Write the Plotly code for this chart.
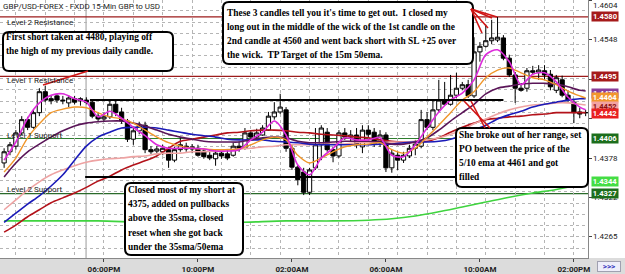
import plotly.graph_objects as go

# ---------------- data ----------------
candle_idx = list(range(100))
opens = [1.4371,1.4387,1.4395,1.4414,1.4433,1.4422,1.4443,1.4473,1.4463,1.4467,
         1.4461,1.4457,1.4463,1.4460,1.4461,1.4458,1.4438,1.4434,1.4437,1.4455,
         1.4444,1.4431,1.4405,1.4417,1.4425,1.4390,1.4388,1.4387,1.4390,1.4375,
         1.4390,1.4395,1.4391,1.4392,1.4388,1.4382,1.4377,1.4385,1.4384,1.4382,
         1.4395,1.4392,1.4414,1.4408,1.4411,1.4418,1.4437,1.4444,1.4447,1.4392,
         1.4365,1.4358,1.4329,1.4364,1.4397,1.4415,1.4390,1.4381,1.4414,1.4408,
         1.4411,1.4394,1.4418,1.4415,1.4402,1.4411,1.4364,1.4382,1.4375,1.4381,
         1.4392,1.4395,1.4433,1.4422,1.4447,1.4461,1.4455,1.4468,1.4478,1.4483,
         1.4467,1.4530,1.4538,1.4546,1.4547,1.4550,1.4521,1.4497,1.4478,1.4478,
         1.4503,1.4501,1.4503,1.4498,1.4475,1.4490,1.4468,1.4458,1.4444,1.4443]
highs = [1.4392,1.4401,1.4418,1.4438,1.4437,1.4447,1.4478,1.4481,1.4468,1.4470,
         1.4467,1.4468,1.4467,1.4465,1.4465,1.4461,1.4444,1.4443,1.4460,1.4460,
         1.4450,1.4434,1.4421,1.4430,1.4430,1.4395,1.4395,1.4397,1.4394,1.4394,
         1.4408,1.4400,1.4398,1.4397,1.4392,1.4390,1.4390,1.4391,1.4390,1.4400,
         1.4402,1.4421,1.4418,1.4420,1.4425,1.4444,1.4458,1.4470,1.4451,1.4397,
         1.4368,1.4364,1.4364,1.4421,1.4425,1.4421,1.4394,1.4418,1.4421,1.4418,
         1.4421,1.4425,1.4425,1.4421,1.4418,1.4415,1.4390,1.4387,1.4387,1.4397,
         1.4404,1.4447,1.4444,1.4461,1.4490,1.4487,1.4497,1.4500,1.4487,1.4490,
         1.4551,1.4544,1.4569,1.4576,1.4580,1.4554,1.4526,1.4501,1.4483,1.4507,
         1.4510,1.4511,1.4511,1.4504,1.4497,1.4496,1.4475,1.4461,1.4450,1.4447]
lows = [1.4364,1.4382,1.4390,1.4411,1.4418,1.4420,1.4438,1.4458,1.4455,1.4457,
        1.4455,1.4451,1.4455,1.4453,1.4455,1.4435,1.4430,1.4431,1.4434,1.4438,
        1.4427,1.4401,1.4397,1.4412,1.4385,1.4384,1.4384,1.4382,1.4364,1.4372,
        1.4387,1.4387,1.4385,1.4380,1.4377,1.4375,1.4367,1.4377,1.4375,1.4380,
        1.4387,1.4390,1.4405,1.4404,1.4410,1.4417,1.4433,1.4441,1.4387,1.4361,
        1.4339,1.4325,1.4325,1.4361,1.4375,1.4387,1.4372,1.4378,1.4404,1.4401,
        1.4392,1.4385,1.4407,1.4394,1.4394,1.4358,1.4357,1.4361,1.4371,1.4378,
        1.4382,1.4392,1.4418,1.4418,1.4444,1.4453,1.4453,1.4464,1.4475,1.4464,
        1.4464,1.4516,1.4536,1.4541,1.4544,1.4518,1.4494,1.4457,1.4473,1.4473,
        1.4498,1.4490,1.4490,1.4475,1.4471,1.4465,1.4458,1.4428,1.4435,1.4438]
closes = [1.4387,1.4397,1.4414,1.4433,1.4422,1.4443,1.4473,1.4461,1.4460,1.4461,
          1.4460,1.4464,1.4458,1.4463,1.4458,1.4438,1.4434,1.4437,1.4455,1.4443,
          1.4431,1.4405,1.4417,1.4424,1.4390,1.4387,1.4391,1.4392,1.4375,1.4390,
          1.4397,1.4391,1.4394,1.4382,1.4380,1.4378,1.4385,1.4381,1.4378,1.4395,
          1.4391,1.4414,1.4408,1.4414,1.4421,1.4438,1.4444,1.4451,1.4392,1.4365,
          1.4347,1.4329,1.4361,1.4397,1.4421,1.4390,1.4381,1.4414,1.4408,1.4411,
          1.4397,1.4418,1.4412,1.4398,1.4411,1.4364,1.4385,1.4375,1.4382,1.4392,
          1.4398,1.4433,1.4422,1.4447,1.4461,1.4455,1.4468,1.4478,1.4483,1.4467,
          1.4530,1.4538,1.4546,1.4550,1.4551,1.4521,1.4497,1.4478,1.4475,1.4503,
          1.4501,1.4504,1.4497,1.4480,1.4493,1.4468,1.4461,1.4443,1.4441,1.4443]

tick_idx = [17, 33, 49, 65, 81, 97]
tick_labels = ["06:00PM", "10:00PM", "02:00AM", "06:00AM", "10:00AM", "02:00PM"]

ma_idx = [0, 2, 4, 6, 8, 10, 12, 14, 16, 18, 20, 22, 24, 26, 28, 30, 32, 34, 36, 38,
          40, 42, 44, 46, 48, 50, 52, 54, 56, 58, 60, 62, 64, 66, 68, 70, 72, 74, 76, 78,
          80, 82, 84, 86, 88, 90, 92, 94, 96, 98, 99]
ema5 = [1.4375,1.4401,1.4435,1.4457,1.4468,1.4470,1.4463,1.4458,1.4437,1.4445,
        1.4435,1.4422,1.4410,1.4397,1.4392,1.4392,1.4392,1.4391,1.4388,1.4388,
        1.4390,1.4404,1.4415,1.4431,1.4411,1.4368,1.4354,1.4378,1.4392,1.4407,
        1.4404,1.4404,1.4407,1.4382,1.4380,1.4397,1.4421,1.4444,1.4461,1.4471,
        1.4490,1.4526,1.4533,1.4516,1.4483,1.4498,1.4500,1.4487,1.4465,1.4451,1.4447]
ema10 = [1.4358,1.4378,1.4407,1.4427,1.4443,1.4448,1.4451,1.4450,1.4443,1.4437,
         1.4434,1.4428,1.4418,1.4408,1.4400,1.4395,1.4392,1.4391,1.4390,1.4390,
         1.4391,1.4397,1.4404,1.4408,1.4404,1.4382,1.4371,1.4378,1.4387,1.4394,
         1.4397,1.4398,1.4400,1.4390,1.4385,1.4392,1.4408,1.4425,1.4443,1.4461,
         1.4473,1.4493,1.4504,1.4507,1.4500,1.4493,1.4490,1.4483,1.4474,1.4467,1.4464]
sma35 = [1.4351,1.4371,1.4387,1.4398,1.4408,1.4417,1.4424,1.4428,1.4430,1.4431,
         1.4431,1.4428,1.4424,1.4418,1.4412,1.4408,1.4405,1.4402,1.4401,1.4401,
         1.4401,1.4404,1.4407,1.4408,1.4407,1.4402,1.4400,1.4400,1.4401,1.4402,
         1.4402,1.4402,1.4401,1.4398,1.4398,1.4401,1.4407,1.4418,1.4431,1.4443,
         1.4455,1.4470,1.4478,1.4481,1.4484,1.4485,1.4485,1.4484,1.4480,1.4475,1.4474]
ema50 = [1.4286,1.4299,1.4312,1.4324,1.4338,1.4354,1.4375,1.4395,1.4408,1.4415,
         1.4421,1.4422,1.4422,1.4421,1.4418,1.4415,1.4412,1.4410,1.4408,1.4405,
         1.4404,1.4404,1.4404,1.4402,1.4401,1.4400,1.4398,1.4397,1.4397,1.4397,
         1.4397,1.4397,1.4398,1.4398,1.4400,1.4401,1.4401,1.4402,1.4405,1.4411,
         1.4418,1.4425,1.4434,1.4440,1.4445,1.4451,1.4455,1.4458,1.4461,1.4463,1.4463]
ma_pink = [1.4304,1.4318,1.4332,1.4344,1.4354,1.4361,1.4367,1.4372,1.4375,1.4377,
           1.4378,1.4380,1.4381,1.4384,1.4385,1.4385,1.4387,1.4387,1.4388,1.4390,
           1.4391,1.4392,1.4394,1.4395,1.4397,1.4397,1.4397,1.4398,1.4398,1.4398,
           1.4400,1.4400,1.4400,1.4401,1.4401,1.4402,1.4404,1.4407,1.4412,1.4418,
           1.4427,1.4434,1.4441,1.4447,1.4451,1.4454,1.4455,1.4457,1.4457,1.4455,1.4454]
ma_red = [1.4272,1.4282,1.4294,1.4304,1.4314,1.4321,1.4328,1.4336,1.4345,1.4352,
          1.4361,1.4368,1.4374,1.4381,1.4392,1.4402,1.4405,1.4408,1.4411,1.4414,
          1.4415,1.4417,1.4418,1.4418,1.4417,1.4415,1.4414,1.4412,1.4411,1.4410,
          1.4408,1.4407,1.4404,1.4402,1.4401,1.4401,1.4402,1.4407,1.4415,1.4422,
          1.4428,1.4433,1.4435,1.4437,1.4438,1.4440,1.4441,1.4443,1.4443,1.4443,1.4443]
green_idx = [0, 8, 16, 24, 32, 40, 48, 56, 62, 66, 70, 74, 78, 82, 86, 90, 94, 98, 99]
ma_green = [1.4288,1.4288,1.4288,1.4286,1.4286,1.4286,1.4288,1.4288,1.4289,1.4291,
            1.4295,1.4301,1.4308,1.4315,1.4322,1.4328,1.4333,1.4341,1.4344]

level_prices = [1.4580, 1.4495, 1.4406, 1.4327]
level_names = ["Level 2 Resistance", "Level 1 Resistance", "Level 1 Support", "Level 2 Support"]
level_colors = ["#9c1b1b", "#9c1b1b", "#2e7d2e", "#2a6a2a"]

range_top = 1.4461
range_bottom = 1.4351

axis_ticks = [1.4604, 1.4548, 1.4491, 1.4435, 1.4378, 1.4322, 1.4265]
plain_labels = [1.4548, 1.4378, 1.4322, 1.4265]
box_labels = [1.4580, 1.4495, 1.4470, 1.4464, 1.4452, 1.4442, 1.4406, 1.4344, 1.4327]
box_bg = ["#a51a1a", "#a51a1a", "#8a3c9a", "#f2962e", "#f3a3a3", "#e82020", "#1c6e1c", "#44dd44", "#1c6e1c"]
box_fg = ["white", "white", "white", "white", "#8a1010", "white", "white", "white", "white"]

note1 = ["First short taken at 4480, playing off", "the high of my previous daily candle."]
note2 = ["These 3 candles tell you it's time to get out.  I closed my",
         "long out in the middle of the wick of the 1st candle on the",
         "2nd candle at 4560 and went back short with SL +25 over",
         "the wick.  TP Target of the 15m 50ema."]
note3 = ["Closed most of my short at", "4375, added on pullbacks", "above the 35sma, closed",
         "reset when she got back", "under the 35sma/50ema"]
note4 = ["She broke out of her range, set", "PO between the price of the",
         "5/10 ema at 4461 and got", "filled"]

# ---------------- layout helpers (pixel -> paper) ----------------
PW, PH = 588.0, 258.0
def px(x):
    return x / PW
def py(y):
    return 1 - y / PH

SANS = "Roboto, Liberation Sans, Arial, sans-serif"
SERIF = "Liberation Serif, Times New Roman, serif"

def rrect(x0, y0, x1, y1, r=6):
    X0, X1, Y0, Y1 = px(x0), px(x1), py(y0), py(y1)
    rx, ry = r / PW, r / PH
    return (f"M {X0+rx},{Y0} L {X1-rx},{Y0} Q {X1},{Y0} {X1},{Y0-ry} "
            f"L {X1},{Y1+ry} Q {X1},{Y1} {X1-rx},{Y1} L {X0+rx},{Y1} "
            f"Q {X0},{Y1} {X0},{Y1+ry} L {X0},{Y0-ry} Q {X0},{Y0} {X0+rx},{Y0} Z")

fig = go.Figure()

# moving averages
ma_specs = [(green_idx, ma_green, "#3fd43f", 1.6),
            (ma_idx, ma_red, "#b3121a", 1.6),
            (ma_idx, ma_pink, "#eea3a3", 1.6),
            (ma_idx, ema50, "#1a1ab8", 1.6),
            (ma_idx, sma35, "#5a1558", 1.6),
            (ma_idx, ema10, "#f0962a", 1.4),
            (ma_idx, ema5, "#dd2adb", 1.6)]
for xs, ys, col, w in ma_specs:
    fig.add_trace(go.Scatter(x=xs, y=ys, mode="lines",
                             line=dict(color=col, width=w, shape="spline", smoothing=0.8),
                             hoverinfo="skip", showlegend=False))

fig.add_trace(go.Candlestick(
    x=candle_idx, open=opens, high=highs, low=lows, close=closes,
    increasing=dict(fillcolor="white", line=dict(color="black", width=1)),
    decreasing=dict(fillcolor="black", line=dict(color="black", width=1)),
    whiskerwidth=0, showlegend=False))

shapes = []
# day separator
shapes.append(dict(type="line", xref="x", yref="paper", x0=13.95, x1=13.95, y0=0, y1=1,
                   line=dict(color="#9a9a9a", width=1), layer="below"))
# level lines
for p, c in zip(level_prices, level_colors):
    shapes.append(dict(type="line", xref="paper", yref="y", x0=0, x1=1, y0=p, y1=p,
                       line=dict(color=c, width=1.2), layer="below"))
# range lines
shapes.append(dict(type="line", xref="x", yref="y", x0=14.6, x1=85.0, y0=range_top, y1=range_top,
                   line=dict(color="black", width=2)))
shapes.append(dict(type="line", xref="x", yref="y", x0=13.8, x1=77.0, y0=range_bottom, y1=range_bottom,
                   line=dict(color="black", width=2)))
# right axis white strip
shapes.append(dict(type="rect", xref="paper", yref="paper", x0=1, x1=625 / PW, y0=0, y1=1,
                   fillcolor="white", line=dict(width=0), layer="below"))

# note boxes
boxes = [(3, 32, 173, 71), (223, 2, 473, 64), (125, 183, 243, 255), (456, 128, 588, 187)]
for b in boxes:
    shapes.append(dict(type="path", xref="paper", yref="paper", path=rrect(*b, r=6),
                       fillcolor="white", line=dict(color="black", width=2), layer="above"))

# red pointer lines (pixel coordinates)
pointers = [((88, 71), (43, 85)),
            ((471, 9), (482, 33)), ((471, 9), (488, 28)), ((471, 9), (492, 18)), ((471, 9), (497, 17)),
            ((464, 101), (490, 128)), ((471, 101), (485, 128))]
for (xa, ya), (xb, yb) in pointers:
    shapes.append(dict(type="line", xref="paper", yref="paper", x0=px(xa), y0=py(ya), x1=px(xb), y1=py(yb),
                       line=dict(color="#d01515", width=1.6), layer="above"))

annotations = []
# title
annotations.append(dict(xref="paper", yref="paper", x=px(1), y=py(6), xanchor="left", yanchor="middle",
                        text="GBP/USD-FOREX - FXDD 15-Min GBP to USD", showarrow=False,
                        font=dict(family=SANS, size=8, color="#222")))
# level labels
level_label_y = [22, 80, 135, 189]
for name, yy in zip(level_names, level_label_y):
    annotations.append(dict(xref="paper", yref="paper", x=px(5), y=py(yy), xanchor="left", yanchor="middle",
                            text=name, showarrow=False, font=dict(family=SANS, size=8, color="#222")))
# notes text
def add_note(lines, x, y0, step=14):
    for k, t in enumerate(lines):
        annotations.append(dict(xref="paper", yref="paper", x=px(x), y=py(y0 + k * step),
                                xanchor="left", yanchor="middle", text=t, showarrow=False,
                                font=dict(family=SERIF, size=9.4, color="black", weight="bold")))
add_note(note1, 4, 37)
add_note(note2, 225, 13)
add_note(note3, 126, 190, step=14.2)
add_note(note4, 457, 135)

# right axis labels
annotations.append(dict(xref="paper", yref="paper", x=px(591), y=py(5), xanchor="left", yanchor="middle",
                        text="1.4604", showarrow=False, font=dict(family=SANS, size=8, color="#222")))
for p in plain_labels:
    annotations.append(dict(xref="paper", yref="y", x=px(591), y=p, xanchor="left", yanchor="middle",
                            text=f"{p:.4f}", showarrow=False, font=dict(family=SANS, size=8, color="#222")))
for p, bg, fg in zip(box_labels, box_bg, box_fg):
    annotations.append(dict(xref="paper", yref="y", x=px(591), y=p, xanchor="left", yanchor="middle",
                            text=f"<b>{p:.4f}</b>", showarrow=False, bgcolor=bg, borderpad=0, width=26,
                            font=dict(family=SANS, size=7.6, color=fg)))
# >>> button
annotations.append(dict(xref="paper", yref="paper", x=px(609), y=py(266.5), xanchor="center", yanchor="middle",
                        text="<b>&gt;&gt;&gt;</b>", showarrow=False, bgcolor="#eeeefa", bordercolor="#a0a0b0",
                        borderwidth=1, borderpad=0, width=22,
                        font=dict(family=SANS, size=8, color="#3a3ac0")))

fig.update_layout(
    width=625, height=274,
    margin=dict(l=0, r=37, t=0, b=16),
    paper_bgcolor="#dcdcdc", plot_bgcolor="white",
    showlegend=False, boxgap=0.28, boxgroupgap=0,
    shapes=shapes, annotations=annotations,
    xaxis=dict(range=[-0.7, 99.4], rangeslider=dict(visible=False), tickmode="array",
               tickvals=tick_idx, ticktext=tick_labels, ticks="outside", ticklen=3, tickcolor="#444",
               showgrid=False, zeroline=False, showline=True, linecolor="#888", linewidth=1,
               tickfont=dict(family=SANS, size=8, color="#222", weight="bold"),
               minor=dict(tickmode="linear", tick0=2, dtick=5, showgrid=True, gridcolor="#b5b5b5",
                          griddash="dot", gridwidth=1, ticks="")),
    yaxis=dict(range=[1.42349, 1.46043], side="right", tickmode="array", tickvals=axis_ticks,
               showticklabels=False, ticks="outside", ticklen=3, tickcolor="#444",
               showgrid=False, zeroline=False, showline=True, linecolor="#888", linewidth=1,
               minor=dict(tickmode="linear", tick0=1.4265, dtick=0.00162, showgrid=True, gridcolor="#b5b5b5",
                          griddash="dot", gridwidth=1, ticks="")),
)

fig.write_html("out.html")
